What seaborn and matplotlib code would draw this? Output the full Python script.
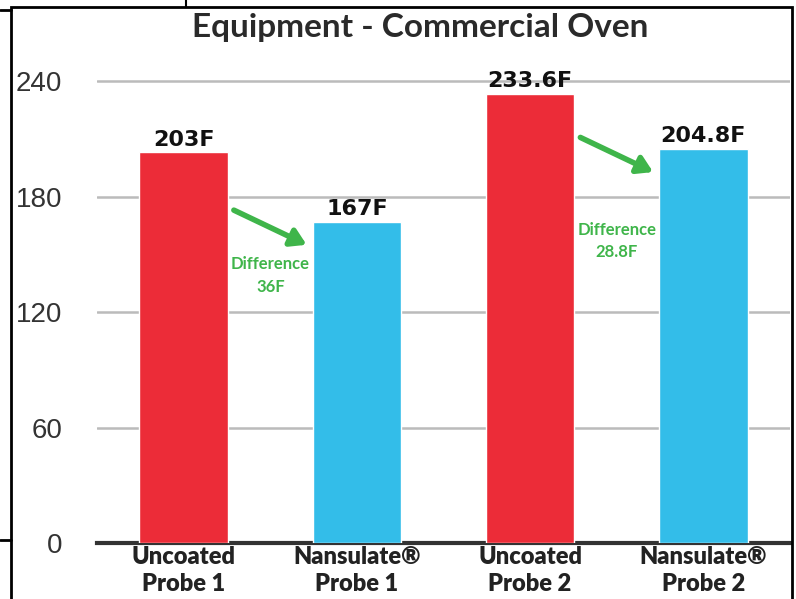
import matplotlib
matplotlib.use("Agg")
import matplotlib.pyplot as plt
import matplotlib.patches as patches
import matplotlib.lines as mlines
import seaborn as sns
import pandas as pd

# data
labels = ["Uncoated\nProbe 1", "Nansulate®\nProbe 1", "Uncoated\nProbe 2", "Nansulate®\nProbe 2"]
values = [203, 167, 233.6, 204.8]
value_text = ["203F", "167F", "233.6F", "204.8F"]
colors = ["#EC2C38", "#33BDE9", "#EC2C38", "#33BDE9"]
diff_text = ["Difference\n36F", "Difference\n28.8F"]
yticks = [0, 60, 120, 180, 240]

sns.set_style("white")
narrow = ["Lato", "DejaVu Sans"]
plain = ["Liberation Sans", "DejaVu Sans"]
green = "#3FB54A"

df = pd.DataFrame({"label": labels, "value": values})

fig = plt.figure(figsize=(7.96, 5.99), dpi=100)
ax = fig.add_axes([97 / 796, 56 / 599, 693 / 796, 481 / 599])

sns.barplot(data=df, x="label", y="value", hue="label", palette=colors,
            legend=False, width=0.51, saturation=1, ax=ax, zorder=3)

ax.set_xlim(-0.5, 3.5)
ax.set_ylim(0, 250)
ax.set_yticks(yticks)
ax.set_yticklabels([str(t) for t in yticks], family=plain, fontsize=20, color="#333333")
ax.tick_params(axis="y", length=0, pad=25)
ax.tick_params(axis="x", length=0, pad=2)
ax.set_xticks(range(len(labels)))
ax.set_xticklabels(labels, family=narrow, fontsize=17, fontweight="heavy", color="#222222",
                   linespacing=1.3)
ax.set_xlabel("")
ax.set_ylabel("")
ax.grid(axis="y", color="#BBBBBB", linewidth=1.8, zorder=0)
ax.set_axisbelow(True)
for s in ["top", "right", "left"]:
    ax.spines[s].set_visible(False)
ax.spines["bottom"].set_color("#333333")
ax.spines["bottom"].set_linewidth(3)

# value labels
for i, (v, t) in enumerate(zip(values, value_text)):
    ax.text(i, v + 1.5, t, ha="center", va="bottom", family=["DejaVu Sans"], fontsize=16,
            fontweight="bold", color="#111111")

# arrows and difference notes
for k, i in enumerate([0, 2]):
    nxt = values[i + 1]
    ax.annotate("", xy=(i + 0.71, nxt - 12), xytext=(i + 0.29, nxt + 6),
                arrowprops=dict(arrowstyle="-|>,head_length=0.9,head_width=0.55",
                                color=green, lw=4, shrinkA=0, shrinkB=0))
ax.text(0.5, 139, diff_text[0], ha="center", va="center", family=narrow, fontsize=12,
        fontweight="bold", color=green, linespacing=1.5)
ax.text(2.5, 157, diff_text[1], ha="center", va="center", family=narrow, fontsize=12,
        fontweight="bold", color=green, linespacing=1.5)

# title
fig.text(420 / 796, 1 - 28 / 599, "Equipment - Commercial Oven", ha="center", va="center",
         family=narrow, fontsize=24, fontweight="bold", color="#2A2A2A")

# frame around the chart
fig.add_artist(patches.Rectangle((11 / 796, -0.01), 781 / 796, 1 - 7 / 599 + 0.01,
                                 transform=fig.transFigure, fill=False,
                                 edgecolor="black", linewidth=2))
fig.add_artist(mlines.Line2D([0, 11 / 796], [1 - 10 / 599, 1 - 10 / 599],
                             transform=fig.transFigure, color="black", linewidth=2))
fig.add_artist(mlines.Line2D([0, 11 / 796], [1 - 540 / 599, 1 - 540 / 599],
                             transform=fig.transFigure, color="black", linewidth=2))
fig.add_artist(mlines.Line2D([186 / 796, 186 / 796], [1 - 7 / 599, 1],
                             transform=fig.transFigure, color="black", linewidth=1.5))

fig.savefig("out.png", dpi=100)
